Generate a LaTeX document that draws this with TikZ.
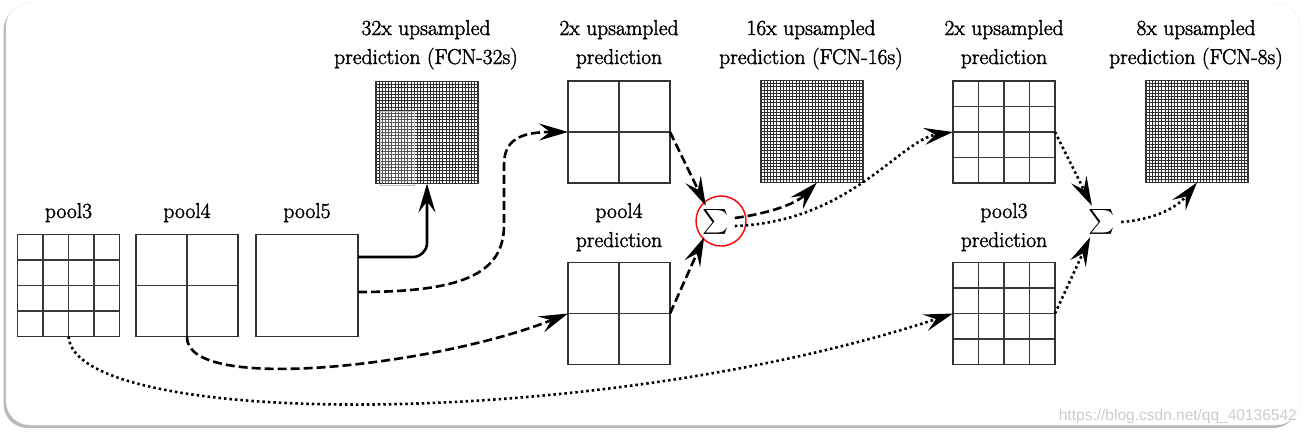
\documentclass[tikz,border=0pt]{standalone}
\usepackage{amsmath}
\usepackage{fontspec}
\newfontfamily\wmfont{Liberation Sans}
\newfontfamily\lblfont{Latin Modern Roman}[FakeBold=1.8]
\usetikzlibrary{arrows.meta,shadows}
\newcommand\mygrid[4]{%
  \pgfmathtruncatemacro\nn{#3-1}%
  \foreach \i in {1,...,\nn}{%
    \draw[#4] ({#1-51+\i*102/#3},{#2-51}) -- ({#1-51+\i*102/#3},{#2+51});
    \draw[#4] ({#1-51},{#2-51+\i*102/#3}) -- ({#1+51},{#2-51+\i*102/#3});
  }}
\begin{document}
\begin{tikzpicture}[x=1pt,y=-1pt,
  box/.style={draw=black!80, line width=1.4pt, minimum size=102pt, inner sep=0pt, outer sep=0pt},
  gl/.style={draw=black!78, line width=1.3pt},
  fl/.style={draw=black!82, line width=1.0pt},
  lbl/.style={font=\lblfont\fontsize{21.5}{26}\selectfont, anchor=base, inner sep=0pt},
  conn/.style={line width=2.6pt, -{Stealth[length=29pt,width=17pt,inset=11pt]}},
  dsh/.style={conn, dash pattern=on 9pt off 4pt},
  dtd/.style={conn, dash pattern=on 2.5pt off 3pt},
  sig/.style={circle, minimum size=38pt, inner sep=0pt, font=\fontsize{23}{23}\selectfont}
]
\path[use as bounding box] (0,0) rectangle (1308,437);
\fill[white] (0,0) rectangle (1308,437);
\draw[gray!15, fill=white, rounded corners=24pt,
  drop shadow={shadow xshift=-2.5pt, shadow yshift=-3pt, opacity=0.45, fill=black!60}]
  (6,3) rectangle (1300,425);

% boxes
\mygrid{68.5}{285.5}{4}{gl}
\node[box] (p3) at (68.5,285.5) {};
\mygrid{187}{285.5}{2}{gl}
\node[box] (p4) at (187,285.5) {};
\node[box] (p5) at (307,285.5) {};

\mygrid{427}{132.5}{32}{fl}
\fill[white, opacity=0.2] (380,111) rectangle (414,185);
\draw[gray!50, line width=0.5pt] (380,111) rectangle (414,185);
\node[box] (up32) at (427,132.5) {};

\mygrid{619}{132}{2}{gl}
\node[box] (up2a) at (619,132) {};
\mygrid{619}{313.5}{2}{gl}
\node[box] (p4pred) at (619,313.5) {};

\mygrid{812}{131.5}{32}{fl}
\node[box] (up16) at (812,131.5) {};

\mygrid{1004}{132}{4}{gl}
\node[box] (up2b) at (1004,132) {};
\mygrid{1004}{313.5}{4}{gl}
\node[box] (p3pred) at (1004,313.5) {};

\mygrid{1197}{131.5}{32}{fl}
\node[box] (up8) at (1197,131.5) {};

% labels
\node[lbl] (l3) at (68.5,218) {pool3};
\node[lbl] (l4) at (187,218) {pool4};
\node[lbl] (l5) at (307,218) {pool5};
\node[lbl] (t32a) at (426,35) {32x upsampled};
\node[lbl] (t32b) at (426,64) {prediction (FCN-32s)};
\node[lbl] (t2a) at (619,35) {2x upsampled};
\node[lbl] (t2b) at (619,64) {prediction};
\node[lbl] (t16a) at (811,35) {16x upsampled};
\node[lbl] (t16b) at (811,64) {prediction (FCN-16s)};
\node[lbl] (t2c) at (1004,35) {2x upsampled};
\node[lbl] (t2d) at (1004,64) {prediction};
\node[lbl] (t8a) at (1196,35) {8x upsampled};
\node[lbl] (t8b) at (1196,64) {prediction (FCN-8s)};
\node[lbl] (pp4a) at (619,218) {pool4};
\node[lbl] (pp4b) at (619,247) {prediction};
\node[lbl] (pp3a) at (1004,218) {pool3};
\node[lbl] (pp3b) at (1004,247) {prediction};

% sums
\node[sig] (s1) at (716,222) {$\sum$};
\node[sig] (s2) at (1102,222) {$\sum$};
\node[draw=red, line width=1.4pt, circle, minimum size=50pt, inner sep=0pt] (hl) at (721,221) {};

% connectors
\draw[conn, rounded corners=14pt] ([yshift=28.5pt]p5.east) -| (up32.south);
\draw[dsh] ([yshift=-6.5pt]p5.east) .. controls (460,292) and (504,275) .. (504,225)
  -- (504,165) .. controls (504,140) and (520,132) .. (up2a.west);
\draw[dsh] (p4.south) .. controls (185,395) and (440,365) .. (p4pred.west);
\draw[dtd] (p3.south) .. controls (75,430) and (600,430) .. (p3pred.west);
\draw[dsh] (up2a.east) -- (s1.122);
\draw[dsh] (p4pred.east) -- (s1.232);
\draw[dsh] (s1.12) .. controls (765,214) and (795,205) .. ([xshift=5pt]up16.south);
\draw[dtd] (s1.-12) .. controls (850,222) and (900,140) .. (up2b.west);
\draw[dtd] (up2b.east) -- (s2.122);
\draw[dtd] (p3pred.east) -- (s2.232);
\draw[dtd] (s2.east) .. controls (1150,220) and (1175,210) .. (up8.south);

% watermark
\node[font=\wmfont\fontsize{15.5}{16}\selectfont, text=gray!40, anchor=base east, inner sep=0pt] (wm) at (1297,420) {https://blog.csdn.net/qq\_40136542};
\end{tikzpicture}
\end{document}
